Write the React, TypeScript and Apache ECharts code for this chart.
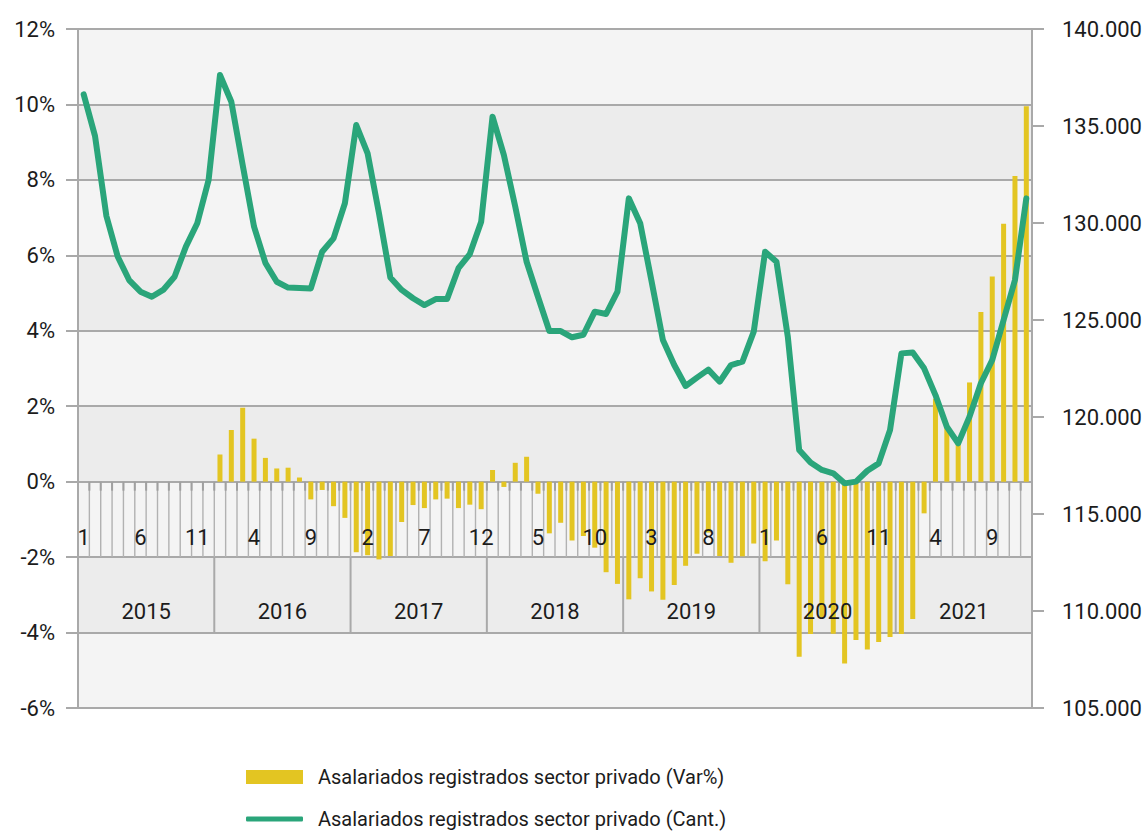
import React, { useEffect, useRef } from "react";
import * as echarts from "echarts";

const years = ["2015", "2016", "2017", "2018", "2019", "2020", "2021"];
const monthNumbers = [1, 2, 3, 4, 5, 6, 7, 8, 9, 10, 11, 12];

// Asalariados registrados sector privado (Var%) — interanual, desde 2016
const varPct2015 = [null, null, null, null, null, null, null, null, null, null, null, null];
const varPct2016 = [0.72, 1.37, 1.96, 1.14, 0.63, 0.35, 0.37, 0.11, -0.47, -0.22, -0.65, -0.96];
const varPct2017 = [-1.87, -1.95, -2.06, -1.97, -1.07, -0.62, -0.7, -0.47, -0.45, -0.7, -0.61, -0.73];
const varPct2018 = [0.31, -0.14, 0.5, 0.66, -0.32, -1.37, -1.09, -1.56, -1.44, -1.75, -2.4, -2.71];
const varPct2019 = [-3.12, -2.56, -2.91, -3.13, -2.74, -2.23, -1.91, -1.35, -1.97, -2.15, -1.98, -1.64];
const varPct2020 = [-2.11, -1.56, -2.72, -4.64, -4.04, -3.6, -4.03, -4.82, -4.2, -4.45, -4.25, -4.12];
const varPct2021 = [-4.04, -3.64, -0.84, 2.2, 1.45, 1.05, 2.63, 4.5, 5.44, 6.84, 8.1, 9.95];

// Asalariados registrados sector privado (Cant.)
const cant2015 = [136630, 134480, 130360, 128260, 127060, 126460, 126200, 126550, 127230, 128780, 129990, 132220];
const cant2016 = [137630, 136250, 132990, 129810, 127940, 126970, 126670, 126650, 126630, 128520, 129210, 131020];
const cant2017 = [135050, 133590, 130500, 127190, 126550, 126120, 125770, 126080, 126080, 127670, 128400, 130070];
const cant2018 = [135480, 133500, 130840, 128000, 126200, 124430, 124430, 124110, 124240, 125430, 125310, 126460];
const cant2019 = [131270, 129990, 127000, 123970, 122680, 121600, 122030, 122440, 121820, 122680, 122850, 124400];
const cant2020 = [128520, 128000, 124140, 118300, 117650, 117270, 117100, 116580, 116670, 117230, 117610, 119330];
const cant2021 = [123280, 123320, 122510, 121130, 119500, 118640, 120020, 121740, 122940, 125000, 127060, 131270];

const leftTicks = { min: -6, max: 12, interval: 2 };
const rightTicks = { min: 105000, max: 140000, interval: 5000 };

const monthLabelEvery = 5;

const nameVar = "Asalariados registrados sector privado (Var%)";
const nameCant = "Asalariados registrados sector privado (Cant.)";

const categories: string[] = [];
years.forEach((y) => monthNumbers.forEach((m) => categories.push(`${m}/${y}`)));
const varPct = [...varPct2015, ...varPct2016, ...varPct2017, ...varPct2018, ...varPct2019, ...varPct2020, ...varPct2021];
const cant = [...cant2015, ...cant2016, ...cant2017, ...cant2018, ...cant2019, ...cant2020, ...cant2021];

const FONT = "Roboto";
const TEXT = "#1c1c1c";
const GRID = "#a9a9a9";
const YELLOW = "#e3c522";
const GREEN = "#2aa57a";

const fmtThousands = (v: number) => String(v).replace(/\B(?=(\d{3})+(?!\d))/g, ".");

export default function App() {
  const ref = useRef<HTMLDivElement>(null);
  useEffect(() => {
    document.body.style.margin = "0";
    if (!ref.current) return;
    const chart = echarts.init(ref.current, undefined, { renderer: "svg" });
    const cellData = categories.map((_, i) => [i, 0]);
    const legendText = { fontFamily: FONT, fontSize: 20, color: TEXT, padding: [0, 0, 0, 10] };
    chart.setOption({
      animation: false,
      backgroundColor: "#ffffff",
      grid: { left: 78, right: 114, top: 29, bottom: 124, containLabel: false },
      legend: [
        {
          left: 246,
          top: 767,
          padding: 0,
          itemWidth: 57,
          itemHeight: 14,
          selectedMode: false,
          data: [{ name: nameVar, icon: "rect" }],
          textStyle: legendText,
        },
        {
          left: 246,
          top: 809,
          padding: 0,
          itemWidth: 57,
          itemHeight: 5,
          selectedMode: false,
          data: [{ name: nameCant, icon: "roundRect", itemStyle: { color: GREEN } }],
          textStyle: legendText,
        },
      ],
      xAxis: {
        type: "category",
        data: categories,
        boundaryGap: true,
        axisLine: { show: false },
        axisTick: { show: false },
        axisLabel: { show: false },
        splitLine: { show: false },
      },
      yAxis: [
        {
          type: "value",
          min: leftTicks.min,
          max: leftTicks.max,
          interval: leftTicks.interval,
          axisLine: { show: true, lineStyle: { color: GRID, width: 2 } },
          axisTick: { show: true, length: 12, lineStyle: { color: GRID, width: 2 } },
          axisLabel: { formatter: "{value}%", margin: 23, fontFamily: FONT, fontSize: 22, color: TEXT },
          splitLine: { show: true, lineStyle: { color: GRID, width: 2 } },
          splitArea: { show: true, areaStyle: { color: ["#f4f4f4", "#ececec"] } },
        },
        {
          type: "value",
          position: "right",
          min: rightTicks.min,
          max: rightTicks.max,
          interval: rightTicks.interval,
          axisLine: { show: true, lineStyle: { color: GRID, width: 2 } },
          axisTick: { show: true, length: 12, lineStyle: { color: GRID, width: 2 } },
          axisLabel: { formatter: (v: number) => fmtThousands(v), margin: 30, fontFamily: FONT, fontSize: 22, color: TEXT },
          splitLine: { show: false },
        },
      ],
      series: [
        {
          name: "cells",
          type: "custom",
          silent: true,
          z: 1,
          xAxisIndex: 0,
          yAxisIndex: 0,
          encode: { x: 0, y: 1 },
          data: cellData,
          renderItem: (params: any, api: any) => {
            const i = api.value(0);
            const c = api.coord([i, 0]);
            const bw = api.size([1, 0])[0];
            const xl = c[0] - bw / 2;
            const y0 = c[1];
            const y2 = api.coord([i, -2])[1];
            const y4 = api.coord([i, -4])[1];
            const children: any[] = [];
            if (i > 0) {
              children.push({ type: "line", shape: { x1: xl, y1: y0, x2: xl, y2: y2 }, style: { stroke: "#b2b2b2", lineWidth: 1.4 } });
              children.push({ type: "line", shape: { x1: xl, y1: y0, x2: xl, y2: y0 + 9 }, style: { stroke: "#a0a0a0", lineWidth: 2 } });
              if (i % 12 === 0) {
                children.push({ type: "line", shape: { x1: xl, y1: y2, x2: xl, y2: y4 }, style: { stroke: GRID, lineWidth: 2 } });
              }
            }
            return { type: "group", children };
          },
        },
        {
          name: nameVar,
          type: "bar",
          xAxisIndex: 0,
          yAxisIndex: 0,
          data: varPct,
          barWidth: 5,
          z: 2,
          itemStyle: { color: YELLOW },
        },
        {
          name: nameCant,
          type: "line",
          xAxisIndex: 0,
          yAxisIndex: 1,
          data: cant,
          z: 3,
          symbol: "none",
          showSymbol: false,
          lineStyle: { color: GREEN, width: 6, join: "round", cap: "round" },
          itemStyle: { color: GREEN },
        },
        {
          name: "labels",
          type: "custom",
          silent: true,
          z: 4,
          xAxisIndex: 0,
          yAxisIndex: 0,
          encode: { x: 0, y: 1 },
          data: cellData,
          renderItem: (params: any, api: any) => {
            const i = api.value(0);
            const c = api.coord([i, 0]);
            const bw = api.size([1, 0])[0];
            const children: any[] = [];
            if (i % monthLabelEvery === 0) {
              const yM = api.coord([i, -1.47])[1];
              children.push({
                type: "text",
                x: c[0],
                y: yM,
                style: {
                  text: String(monthNumbers[i % 12]),
                  fill: TEXT,
                  fontFamily: FONT,
                  fontSize: 22,
                  align: "center",
                  verticalAlign: "middle",
                },
              });
            }
            if (i % 12 === 0) {
              const yY = api.coord([i, -3.43])[1];
              children.push({
                type: "text",
                x: c[0] - bw / 2 + bw * 6,
                y: yY,
                style: {
                  text: years[i / 12],
                  fill: TEXT,
                  fontFamily: FONT,
                  fontSize: 22,
                  align: "center",
                  verticalAlign: "middle",
                },
              });
            }
            return { type: "group", children };
          },
        },
      ],
    });
    return () => chart.dispose();
  }, []);
  return <div ref={ref} style={{ width: 1146, height: 832 }} />;
}
